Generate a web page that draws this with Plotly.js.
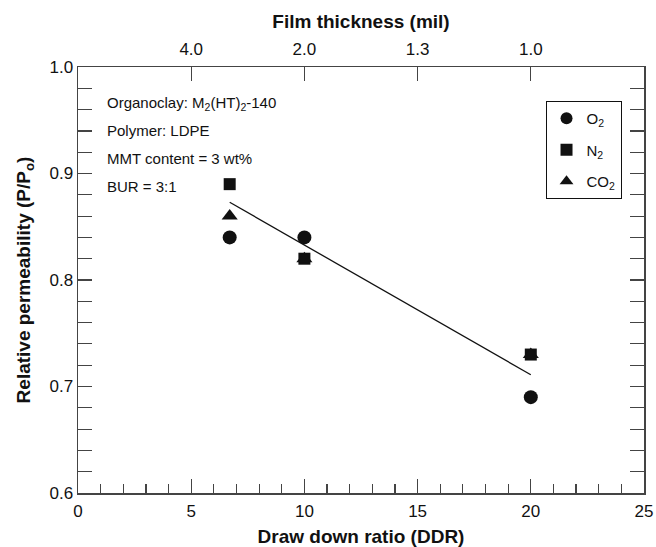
<!DOCTYPE html>
<html><head><meta charset="utf-8">
<script src="https://cdn.plot.ly/plotly-3.0.1.min.js"></script>
<style>body{margin:0;padding:0;background:#fff}#chart{width:656px;height:547px}</style>
</head><body><div id="chart"></div>
<script>
const ddr = [6.7, 10, 20];
const o2 = [0.84, 0.84, 0.69];
const n2 = [0.89, 0.82, 0.73];
const co2 = [0.86, 0.82, 0.73];
const fitX = [6.7, 20];
const fitY = [0.873, 0.711];
const topTickVals = [5, 10, 15, 20];
const topTickText = ['4.0', '2.0', '1.3', '1.0'];
const yTickVals = [0.6, 0.7, 0.8, 0.9, 1.0];
const yTickText = ['0.6', '0.7', '0.8', '0.9', '1.0'];
const notes = ['Organoclay: M<sub>2</sub>(HT)<sub>2</sub>-140', 'Polymer: LDPE', 'MMT content = 3 wt%', 'BUR = 3:1'];

const F = 'Liberation Sans, Arial, sans-serif';
const C = '#111';
const traces = [
  {x: ddr, y: o2, mode: 'markers', name: 'O<sub>2</sub>', legendgroup: 'a', marker: {symbol: 'circle', size: 14, color: C}},
  {x: ddr, y: n2, mode: 'markers', name: 'N<sub>2</sub>', legendgroup: 'b', marker: {symbol: 'square', size: 12, color: C}},
  {x: ddr, y: co2, mode: 'markers', name: 'CO<sub>2</sub>', legendgroup: 'c', marker: {symbol: 'triangle-up', size: 14, color: C}},
  {x: fitX, y: fitY, mode: 'lines', showlegend: false, line: {color: C, width: 1.3}},
  {x: [0], y: [0.6], xaxis: 'x2', mode: 'markers', showlegend: false, hoverinfo: 'skip', marker: {opacity: 0}}
];
const annotations = notes.map((t, i) => ({
  xref: 'paper', yref: 'paper', x: 0.048, y: 0.915 - i * 0.065, xanchor: 'left', yanchor: 'middle',
  text: t, showarrow: false, font: {family: F, size: 15, color: C}
}));
const tickLine = {ticks: 'inside', ticklen: 14, tickwidth: 1.2, tickcolor: '#444', showline: true, linecolor: '#444', linewidth: 1.5, showgrid: false, zeroline: false};
const minorY = {dtick: 0.02, ticks: 'inside', ticklen: 9, tickwidth: 1.2, tickcolor: '#444'};
const layout = {
  width: 656, height: 547,
  margin: {l: 78, r: 12, t: 67, b: 54},
  paper_bgcolor: '#fff', plot_bgcolor: '#fff',
  font: {family: F, size: 17, color: C},
  showlegend: true,
  legend: {x: 0.826, y: 0.92, xanchor: 'left', yanchor: 'top', bordercolor: C, borderwidth: 1,
    bgcolor: '#fff', font: {family: F, size: 15, color: C}, itemsizing: 'constant',
    traceorder: 'grouped', tracegroupgap: 9, itemwidth: 30},
  xaxis: Object.assign({range: [0, 25], tickvals: [0, 5, 10, 15, 20, 25],
    minor: {dtick: 1, ticks: 'inside', ticklen: 9, tickwidth: 1.2, tickcolor: '#444'},
    tickfont: {family: F, size: 17}, ticklabelstandoff: 2,
    title: {text: '<b>Draw down ratio (DDR)</b>', font: {family: F, size: 19}, standoff: 10}}, tickLine),
  xaxis2: Object.assign({overlaying: 'x', side: 'top', range: [0, 25], tickvals: topTickVals, ticktext: topTickText,
    tickfont: {family: F, size: 17}, ticklabelstandoff: 4,
    title: {text: '<b>Film thickness (mil)</b>', font: {family: F, size: 19}, standoff: 6}}, tickLine),
  yaxis: Object.assign({range: [0.6, 1.0], tickvals: yTickVals, ticktext: yTickText, mirror: 'allticks',
    minor: minorY,
    tickfont: {family: F, size: 17},
    title: {text: '<b>Relative permeability (P/P<sub>o</sub>)</b>', font: {family: F, size: 19}, standoff: 14}}, tickLine),
  annotations: annotations
};
Plotly.newPlot('chart', traces, layout, {displayModeBar: false, staticPlot: true});
</script></body></html>
